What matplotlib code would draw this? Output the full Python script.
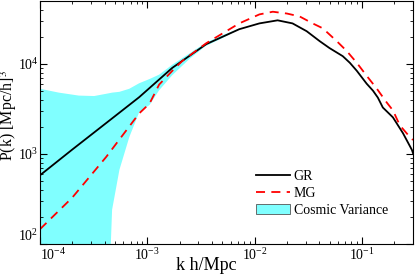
import numpy as np
import matplotlib
matplotlib.use("Agg")
import matplotlib.pyplot as plt
from matplotlib.patches import Patch

plt.rcParams['font.family'] = ['Liberation Serif', 'DejaVu Serif']
plt.rcParams['mathtext.fontset'] = 'stix'

# GR power spectrum
k_gr = [1.0e-4, 2e-4, 5e-4, 8.4e-4, 1.71e-3, 3.55e-3, 7.2e-3, 1.11e-2, 1.64e-2,
        2.26e-2, 3.06e-2, 4.05e-2, 5.0e-2, 6.64e-2, 7.73e-2, 8.97e-2, 0.111,
        0.127, 0.141, 0.157, 0.195, 0.242, 0.293, 0.30]
p_gr = [580, 1120, 2630, 4270, 9040, 16600, 24300, 28200, 30500,
        28200, 23100, 17900, 15000, 12200, 10300, 8400, 6030,
        5050, 4230, 3280, 2550, 1700, 1110, 1020]

# MG power spectrum
k_mg = [1.0e-4, 2e-4, 4.14e-4, 8.4e-4, 1.05e-3, 1.29e-3, 1.71e-3, 2.12e-3, 3.55e-3,
        7.2e-3, 1.11e-2, 1.48e-2, 2.0e-2, 2.63e-2, 3.48e-2, 4.32e-2, 5.84e-2,
        7.24e-2, 8.97e-2, 0.111, 0.138, 0.171, 0.195, 0.226, 0.281, 0.30]
p_mg = [146, 328, 927, 2820, 3630, 5900, 8380, 10800, 17000,
        28200, 35500, 38000, 36300, 33700, 28200, 24900, 17900,
        13900, 10300, 7380, 5310, 3720, 3050, 2080, 1540, 1430]

# cosmic variance band
k_cv = [1e-4, 1.5e-4, 2.3e-4, 3.2e-4, 4.1e-4, 4.5e-4, 4.7e-4, 5.5e-4, 6.8e-4,
        8.4e-4, 1.05e-3, 1.29e-3, 1.71e-3, 2.5e-3, 3.5e-3, 5e-3, 7e-3]
cv_up = [5300, 4800, 4450, 4400, 4650, 4750, 4800, 4900, 5300,
         6100, 6800, 7600, 9800, 13200, 17100, 20800, 24300]
cv_lo = [10, 10, 10, 10, 10, 60, 240, 667, 1540,
         2900, 3500, 5100, 7500, 11500, 15800, 19300, 23800]

x_ticks = [1e-4, 1e-3, 1e-2, 1e-1]
y_ticks = [1e2, 1e3, 1e4]

fig = plt.figure(figsize=(4.15, 2.74), dpi=100)
ax = fig.add_axes([40/415, 30/274, 373/415, 243/274])

ax.fill_between(k_cv, cv_lo, cv_up, color='#80ffff', linewidth=0)
gr, = ax.plot(k_gr, p_gr, color='black', lw=1.3)
mg, = ax.plot(k_mg, p_mg, color='red', lw=1.3, dashes=(5, 3.5))

ax.set_xscale('log')
ax.set_yscale('log')
ax.set_xlim(1e-4, 0.3)
ax.set_ylim(100, 5e4)
ax.set_xticks(x_ticks)
ax.set_yticks(y_ticks)

ax.tick_params(which='both', direction='in', top=True, right=True, labelsize=10)
ax.tick_params(which='major', length=5)
ax.tick_params(which='minor', length=2.5)
ax.tick_params(axis='x', pad=2)
ax.tick_params(axis='y', pad=1)
ax.get_xticklabels()[0].set_ha('left')
ax.get_yticklabels()[0].set_va('bottom')

ax.set_xlabel('k h/Mpc', fontsize=13)
ax.xaxis.set_label_coords(0.445, -0.055)
ax.set_ylabel(r'P(k) [Mpc/h]$^3$', fontsize=11.5)
ax.yaxis.set_label_coords(-0.056, 0.53)

cv_patch = Patch(facecolor='#80ffff', edgecolor='#555555', linewidth=0.6)
ax.legend([gr, mg, cv_patch], ['GR', 'MG', 'Cosmic Variance'], frameon=False,
          fontsize=10, loc='upper left', bbox_to_anchor=(0.58, 0.305),
          borderaxespad=0, borderpad=0, handlelength=2.4, handletextpad=0.3,
          labelspacing=0.3)

fig.savefig('out.png', dpi=100)
